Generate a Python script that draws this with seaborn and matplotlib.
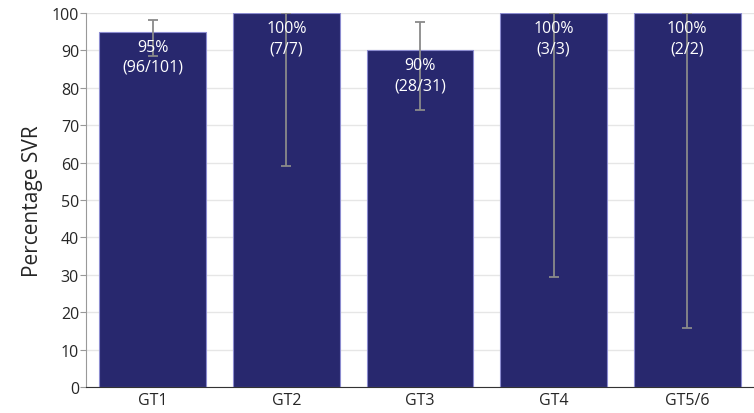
import numpy as np
import pandas as pd
import seaborn as sns
import matplotlib.pyplot as plt

# values
genotypes = ['GT1', 'GT2', 'GT3', 'GT4', 'GT5/6']
svr_pct = [95, 100, 90, 100, 100]
ci_low = [88.5, 59, 74, 29.5, 15.7]
ci_high = [98.2, 100, 97.6, 100, 100]
labels = ['95%\n(96/101)', '100%\n(7/7)', '90%\n(28/31)', '100%\n(3/3)', '100%\n(2/2)']

sns.set_style('white')
plt.rcParams['font.family'] = ['Open Sans', 'DejaVu Sans']

df = pd.DataFrame({'genotype': genotypes, 'svr': svr_pct})

fig = plt.figure(figsize=(7.54, 4.14), dpi=100)
ax = fig.add_axes([0.114, 0.063, 0.886, 0.903])

sns.barplot(data=df, x='genotype', y='svr', color='#28286e', saturation=1,
            width=0.8, edgecolor='#8c8cd0', linewidth=0.8, ax=ax, zorder=2)

x = np.arange(len(genotypes))
yerr = [np.array(svr_pct) - np.array(ci_low), np.array(ci_high) - np.array(svr_pct)]
ax.errorbar(x, svr_pct, yerr=yerr, fmt='none', ecolor='#8a8a8a',
            elinewidth=1.3, capsize=3.5, capthick=1.3, zorder=4)

for xi, yi, lab in zip(x, svr_pct, labels):
    ax.annotate(lab, (xi, yi), xytext=(0, -5), textcoords='offset points',
                ha='center', va='top', color='white', fontsize=11.5,
                linespacing=1.35, zorder=5)

ax.set_ylim(0, 100)
ax.set_xlim(-0.5, 4.5)
ax.set_yticks(range(0, 101, 10))
ax.yaxis.grid(True, color='#e6e6e6', linewidth=1, zorder=0)
ax.set_axisbelow(True)
ax.set_xlabel('')
ax.set_ylabel('Percentage SVR', fontsize=15, labelpad=6)
ax.tick_params(axis='y', length=4, color='#999999', labelsize=11.5, pad=1, left=True)
ax.tick_params(axis='x', length=0, labelsize=11.5, pad=4)
for s in ['top', 'right']:
    ax.spines[s].set_visible(False)
ax.spines['left'].set_color('#999999')
ax.spines['bottom'].set_color('#333333')

fig.savefig('out.png', dpi=100)
